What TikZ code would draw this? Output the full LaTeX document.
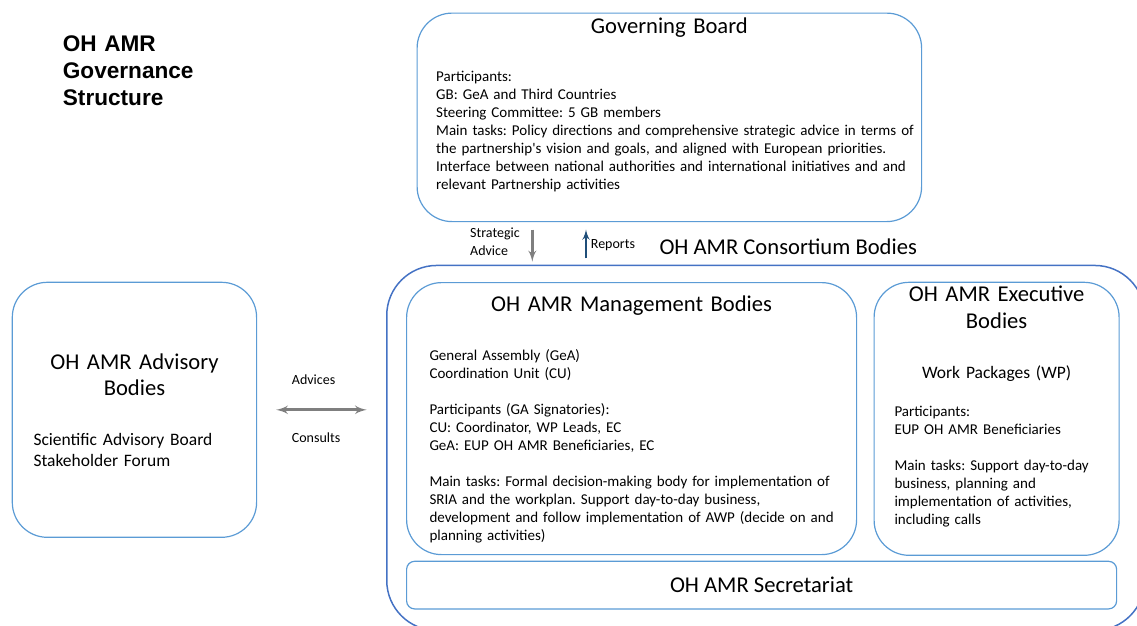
\documentclass[tikz,border=0pt]{standalone}
\usepackage{fontspec}
\setmainfont{Carlito}
\newfontfamily\headfont{Liberation Sans}
\usetikzlibrary{positioning,arrows}

\definecolor{boxblue}{RGB}{91,155,213}
\definecolor{consblue}{RGB}{68,114,196}
\definecolor{arrowgray}{RGB}{127,127,127}
\definecolor{reportblue}{RGB}{31,78,121}

\newcommand{\bodysize}{\fontsize{15}{18}\selectfont}
\newcommand{\headsize}{\fontsize{22.6}{26.7}\selectfont}
\newcommand{\midsize}{\fontsize{17.5}{21}\selectfont}
\newcommand{\tagsize}{\fontsize{14}{17.7}\selectfont}

\begin{document}
\frenchspacing
\begin{tikzpicture}[x=1pt,y=-1pt,
    panel/.style={draw=boxblue, line width=1.2pt, rounded corners=35pt, anchor=north west, inner sep=0pt},
    heading/.style={font=\headsize, text width=#1, align=center, inner sep=0pt, execute at begin node=\strut},
    body/.style={font=\bodysize, text width=#1, align=left, inner sep=0pt, execute at begin node=\strut},
    midtext/.style={font=\midsize, text width=#1, inner sep=0pt, execute at begin node=\strut},
    tag/.style={font=\tagsize, inner sep=0pt},
    flow/.style={-latex', line width=2.8pt}]
	\useasboundingbox (0,0) rectangle (1137,625);
	\begin{scope}
	\clip (0,0) rectangle (1137,625);
	\node[panel, draw=consblue, line width=1.5pt, rounded corners=50pt, minimum width=758pt, minimum height=365pt] (cons) at (386,264.7) {};
	\end{scope}
	% boxes
	\node[panel, minimum width=504.5pt, minimum height=208.5pt] (gb) at (416.5,12.5) {};
	\node[panel, minimum width=450pt, minimum height=272pt] (mgmt) at (406,282) {};
	\node[panel, minimum width=245pt, minimum height=273pt] (exec) at (873.5,281.7) {};
	\node[panel, rounded corners=8pt, minimum width=710pt, minimum height=47.6pt] (sec) at (406,560.7) {};
	\node[panel, minimum width=244.3pt, minimum height=255pt] (adv) at (11.7,281.7) {};
	% title
	\node[font=\headfont\bfseries\headsize, text width=200pt, align=left, inner sep=0pt, anchor=north west, execute at begin node=\strut] (maintitle) at (62.7,33) {OH AMR\\Governance\\Structure};
	% governing board
	\node[heading=260pt, below=2.1pt of gb.north] (gbtitle) {Governing Board};
	\node[body=490pt, below right=56.6pt and 19.5pt of gb.north west] (gbtext) {Participants:\\GB: GeA and Third Countries\\Steering Committee: 5 GB members\\Main tasks: Policy directions and comprehensive strategic advice in terms of\\the partnership\textquotesingle s vision and goals, and aligned with European priorities.\\Interface between national authorities and international initiatives and and\\relevant Partnership activities};
	% consortium
	\node[font=\headsize, inner sep=0pt, anchor=base west] (constitle) at (659.3,254) {OH AMR Consortium Bodies};
	\node[heading=420pt, below=11pt of mgmt.north] (mgmttitle) {OH AMR Management Bodies};
	\node[body=430pt, below right=65.4pt and 23.3pt of mgmt.north west] (mgmttext) {General Assembly (GeA)\\Coordination Unit (CU)\\[18pt]Participants (GA Signatories):\\CU: Coordinator, WP Leads, EC\\GeA: EUP OH AMR Beneficiaries, EC\\[18pt]Main tasks: Formal decision-making body for implementation of\\SRIA and the workplan. Support day-to-day business,\\development and follow implementation of AWP (decide on and\\planning activities)};
	\node[heading=240pt, below=1.3pt of exec.north] (exectitle) {OH AMR Executive\\Bodies};
	\node[midtext=220pt, align=center, below=81.9pt of exec.north] (wp) {Work Packages (WP)};
	\node[body=220pt, below right=121.7pt and 20.8pt of exec.north west] (exectext) {Participants:\\EUP OH AMR Beneficiaries\\[18pt]Main tasks: Support day-to-day\\business, planning and\\implementation of activities,\\including calls};
	\node[font=\headsize, inner sep=0pt] (sectitle) at (sec.center) {OH AMR Secretariat};
	% advisory
	\node[heading=240pt, below=68.6pt of adv.north] (advtitle) {OH AMR Advisory\\Bodies};
	\node[midtext=220pt, align=left, below right=149.3pt and 21.6pt of adv.north west] (advtext) {Scientific Advisory Board\\Stakeholder Forum};
	% links
	\coordinate (sa) at (532.3,240);
	\coordinate (rp) at (586,240);
	\draw[flow, draw=arrowgray, shorten <=7.3pt, shorten >=3pt] (gb.south -| sa) -- (cons.north -| sa);
	\draw[flow, draw=reportblue, line width=2.5pt, shorten <=6.4pt, shorten >=7.3pt] (cons.north -| rp) -- (gb.south -| rp);
	\draw[flow, draw=arrowgray, latex'-latex', line width=3pt, shorten <=19pt, shorten >=19.3pt] (adv.east) -- (adv.east -| cons.west);
	\node[tag, text width=60pt, align=left, anchor=north west, execute at begin node=\strut] (satext) at (470,224.9) {Strategic\\Advice};
	\node[tag, anchor=base west] (reptext) at (590.7,248.3) {Reports};
	\node[tag, anchor=base west] (advices) at (291.7,384.3) {Advices};
	\node[tag, anchor=base west] (consults) at (291.7,442.7) {Consults};
\end{tikzpicture}
\end{document}
